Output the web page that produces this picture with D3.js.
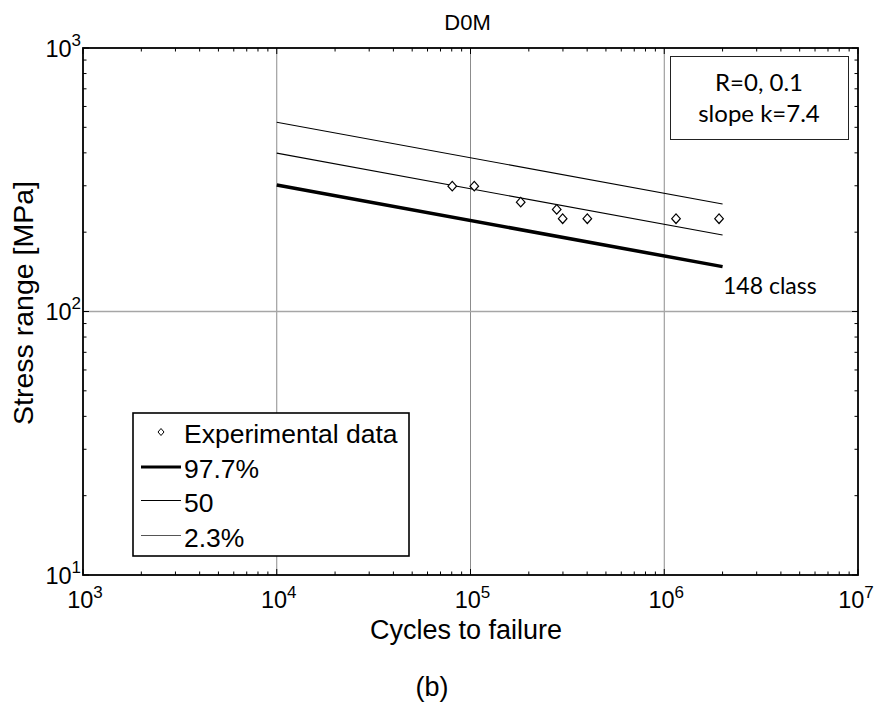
<!DOCTYPE html>
<html>
<head>
<meta charset="utf-8">
<script src="https://cdn.jsdelivr.net/npm/d3@7"></script>
<style>
body { margin: 0; background: #fff; }
text { font-family: "Liberation Sans", Arial, sans-serif; fill: #000; }
</style>
</head>
<body>
<div id="chart"></div>
<script>
// cycles to failure / stress range of the test specimens
var testN = [80500, 104600, 181600, 278600, 299000, 400800, 1150000, 1918000];
var testS = [299, 299, 260, 244, 225, 225, 225, 225];

// design curves, end points at 1e4 and 2e6 cycles
var curveN = [1e4, 2e6];
var curve977 = [302, 148];
var curve50 = [399, 195];
var curve23 = [523, 256];

var xDecades = [1e3, 1e4, 1e5, 1e6, 1e7];
var yDecades = [1e1, 1e2, 1e3];
var legendNames = ["Experimental data", "97.7%", "50", "2.3%"];

var W = 876, H = 707;
var pL = 83, pR = 858, pT = 48, pB = 575;

var svg = d3.select("#chart").append("svg").attr("width", W).attr("height", H);

var x = d3.scaleLog().domain([1e3, 1e7]).range([pL, pR]);
var y = d3.scaleLog().domain([10, 1000]).range([pB, pT]);

// grid, only at the decades inside the box
svg.append("g").selectAll("line").data(xDecades.slice(1, -1)).enter().append("line")
  .attr("x1", function(d) { return x(d); }).attr("x2", function(d) { return x(d); })
  .attr("y1", pT).attr("y2", pB)
  .attr("stroke", "#8c8c8c").attr("stroke-width", 1);
svg.append("g").selectAll("line").data(yDecades.slice(1, -1)).enter().append("line")
  .attr("y1", function(d) { return y(d); }).attr("y2", function(d) { return y(d); })
  .attr("x1", pL).attr("x2", pR)
  .attr("stroke", "#a6a6a6").attr("stroke-width", 1.3);

// ticks pointing inward on all four sides
function isMajor(d) { return Math.abs(Math.log10(d) - Math.round(Math.log10(d))) < 1e-9; }
var xt = x.ticks(), yt = y.ticks();
var ticks = svg.append("g").attr("stroke", "#000").attr("stroke-width", 1);
xt.forEach(function(d) {
  var l = isMajor(d) ? 6 : 3.5;
  ticks.append("line").attr("x1", x(d)).attr("x2", x(d)).attr("y1", pB).attr("y2", pB - l);
  ticks.append("line").attr("x1", x(d)).attr("x2", x(d)).attr("y1", pT).attr("y2", pT + l);
});
yt.forEach(function(d) {
  var l = isMajor(d) ? 6 : 3.5;
  ticks.append("line").attr("y1", y(d)).attr("y2", y(d)).attr("x1", pL).attr("x2", pL + l);
  ticks.append("line").attr("y1", y(d)).attr("y2", y(d)).attr("x1", pR).attr("x2", pR - l);
});

// decade labels with superscripts
xDecades.forEach(function(d) {
  var t = svg.append("text").attr("x", Math.min(x(d) + 2, 856)).attr("y", 608)
    .attr("text-anchor", "middle").style("font-size", "23.5px");
  t.append("tspan").text("10");
  t.append("tspan").attr("dy", -10).style("font-size", "17px").text(Math.round(Math.log10(d)));
});
yDecades.forEach(function(d) {
  var t = svg.append("text").attr("x", 81).attr("y", y(d) + 8.5)
    .attr("text-anchor", "end").style("font-size", "23.5px");
  t.append("tspan").text("10");
  t.append("tspan").attr("dy", -11).style("font-size", "17px").text(Math.round(Math.log10(d)));
});

// curves
var line = d3.line().x(function(d) { return x(d[0]); }).y(function(d) { return y(d[1]); });
[[curve23, 1.1], [curve50, 1.1], [curve977, 3.5]].forEach(function(c) {
  svg.append("path").datum(d3.zip(curveN, c[0])).attr("d", line)
    .attr("fill", "none").attr("stroke", "#000").attr("stroke-width", c[1]);
});

// test points
function diamond(w, h) { return "M0," + (-h) + "L" + w + ",0L0," + h + "L" + (-w) + ",0Z"; }
svg.append("g").selectAll("path").data(d3.zip(testN, testS)).enter().append("path")
  .attr("transform", function(d) { return "translate(" + x(d[0]) + "," + y(d[1]) + ")"; })
  .attr("d", diamond(4.3, 4.8))
  .attr("fill", "#fff").attr("stroke", "#000").attr("stroke-width", 1.2);

// frame
svg.append("rect").attr("x", pL).attr("y", pT).attr("width", pR - pL).attr("height", pB - pT)
  .attr("fill", "none").attr("stroke", "#000").attr("stroke-width", 1.8);

// titles
svg.append("text").attr("x", (pL + pR) / 2 - 3).attr("y", 30).attr("text-anchor", "middle")
  .style("font-size", "22px").text("D0M");
svg.append("text").attr("x", 466).attr("y", 639).attr("text-anchor", "middle")
  .style("font-size", "27px").text("Cycles to failure");
svg.append("text").attr("transform", "translate(33," + 303 + ") rotate(-90)").attr("text-anchor", "middle")
  .style("font-size", "28.5px").text("Stress range [MPa]");
svg.append("text").attr("x", 432).attr("y", 696).attr("text-anchor", "middle")
  .style("font-size", "27px").text("(b)");

// class label at the end of the 97.7% curve
svg.append("text").attr("x", 723).attr("y", 294)
  .style("font-family", "Lato, 'Open Sans', sans-serif").style("font-size", "23px").text("148 class");

// note box
svg.append("rect").attr("x", 670.5).attr("y", 56.5).attr("width", 178).attr("height", 83)
  .attr("fill", "#fff").attr("stroke", "#222").attr("stroke-width", 1);
svg.append("text").attr("x", 759).attr("y", 91).attr("text-anchor", "middle")
  .style("font-family", "Lato, 'Open Sans', sans-serif").style("font-size", "24px").text("R=0, 0.1");
svg.append("text").attr("x", 759).attr("y", 122).attr("text-anchor", "middle")
  .style("font-family", "Lato, 'Open Sans', sans-serif").style("font-size", "24px").text("slope k=7.4");

// legend
var lg = svg.append("g");
lg.append("rect").attr("x", 133).attr("y", 413).attr("width", 276).attr("height", 143)
  .attr("fill", "#fff").attr("stroke", "#000").attr("stroke-width", 1.6);
var rowY = [432, 467, 500.5, 535.5];
lg.append("path").attr("transform", "translate(161," + rowY[0] + ")").attr("d", diamond(3, 3.5))
  .attr("fill", "#fff").attr("stroke", "#000").attr("stroke-width", 1);
var sample = [[3, "#000"], [1, "#000"], [1, "#555"]];
sample.forEach(function(s, i) {
  lg.append("line").attr("x1", 141).attr("x2", 181).attr("y1", rowY[i + 1]).attr("y2", rowY[i + 1])
    .attr("stroke", s[1]).attr("stroke-width", s[0]);
});
legendNames.forEach(function(n, i) {
  lg.append("text").attr("x", 184).attr("y", Math.round(rowY[i]) + 11).style("font-size", "26.5px").text(n);
});
</script>
</body>
</html>
